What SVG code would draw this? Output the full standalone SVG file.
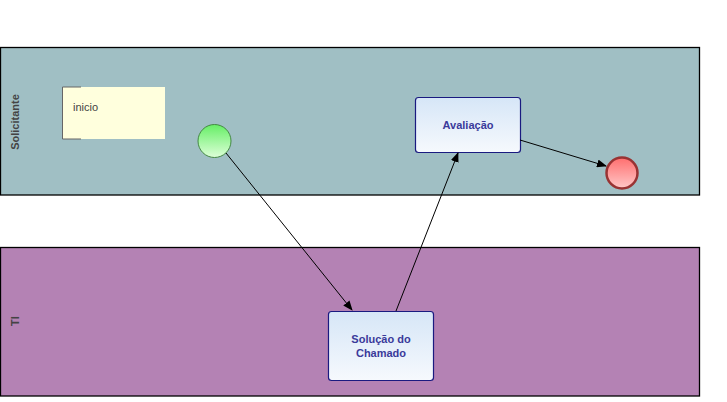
<svg xmlns="http://www.w3.org/2000/svg" width="727" height="402" viewBox="0 0 727 402">
<defs>
<linearGradient id="taskG" x1="0" y1="0" x2="0" y2="1"><stop offset="0" stop-color="#d6e6f7"/><stop offset="1" stop-color="#f6f9fd"/></linearGradient>
<linearGradient id="startG" x1="0" y1="0" x2="0" y2="1"><stop offset="0" stop-color="#66ee66"/><stop offset="1" stop-color="#ddffd8"/></linearGradient>
<linearGradient id="endG" x1="0" y1="0" x2="0" y2="1"><stop offset="0" stop-color="#ff6e6e"/><stop offset="1" stop-color="#ffc8c8"/></linearGradient>
<marker id="arr" markerWidth="10" markerHeight="8" refX="9" refY="4" orient="auto" markerUnits="userSpaceOnUse"><path d="M0,0 L10,4 L0,8 Z" fill="#000"/></marker>
<style>
.lane{stroke:#000;stroke-width:1.3}
.lbl{font-family:"Liberation Sans",Arial,sans-serif;font-size:11px;font-weight:bold;fill:#444}
.task{fill:url(#taskG);stroke:#1a1a80;stroke-width:1.2}
.tt{font-family:"Liberation Sans",Arial,sans-serif;font-size:11px;font-weight:bold;fill:#3a3a9a;text-anchor:middle}
.conn{stroke:#000;stroke-width:1;fill:none;marker-end:url(#arr)}
</style>
</defs>
<rect width="727" height="402" fill="#fff"/>
<g id="lane-solicitante">
<rect class="lane" x="0.5" y="47.5" width="699" height="147.5" fill="#a0bfc4"/>
<text class="lbl" transform="translate(19,122) rotate(-90)" text-anchor="middle">Solicitante</text>
</g>
<g id="lane-ti">
<rect class="lane" x="0.5" y="247.5" width="699" height="148.5" fill="#b482b4"/>
<text class="lbl" transform="translate(19,321) rotate(-90)" text-anchor="middle">TI</text>
</g>
<g id="annotation-inicio">
<rect x="62" y="87" width="103" height="52" fill="#ffffdd"/>
<path d="M81,87 H62.5 V139 H81" fill="none" stroke="#666" stroke-width="1"/>
<text x="73" y="111" font-family="Liberation Sans, Arial, sans-serif" font-size="11" fill="#444">inicio</text>
</g>
<g id="start">
<circle cx="214.5" cy="141" r="16.5" fill="url(#startG)" stroke="#448844" stroke-width="1"/>
</g>
<g id="task-avaliacao">
<rect class="task" x="415.5" y="97.5" width="105" height="55" rx="3"/>
<text class="tt" x="468" y="129">Avaliação</text>
</g>
<g id="end">
<circle cx="622" cy="173" r="15.5" fill="url(#endG)" stroke="#993333" stroke-width="2.5"/>
</g>
<g id="task-solucao">
<rect class="task" x="328.5" y="311.5" width="105" height="69" rx="3"/>
<text class="tt" x="381" y="343">Solução do</text>
<text class="tt" x="381" y="357">Chamado</text>
</g>
<g id="connectors">
<path class="conn" d="M226,153 L352,310"/>
<path class="conn" d="M396,311 L458,153"/>
<path class="conn" d="M520,140 L606,166"/>
</g>
</svg>
